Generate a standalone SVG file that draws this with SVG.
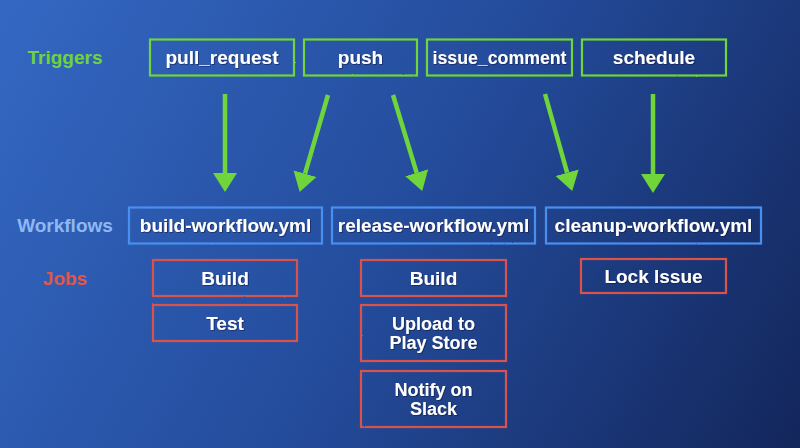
<svg xmlns="http://www.w3.org/2000/svg" width="800" height="448" viewBox="0 0 800 448">
  <defs>
    <linearGradient id="bg" x1="0" y1="0" x2="800" y2="448" gradientUnits="userSpaceOnUse">
      <stop offset="0" stop-color="#3468c3"/>
      <stop offset="0.5" stop-color="#244c9c"/>
      <stop offset="1" stop-color="#13265b"/>
    </linearGradient>
    <filter id="rough" filterUnits="userSpaceOnUse" x="0" y="0" width="800" height="448">
      <feTurbulence type="fractalNoise" baseFrequency="0.9" numOctaves="2" seed="3" result="n"/>
      <feDisplacementMap in="SourceGraphic" in2="n" scale="1.4" xChannelSelector="R" yChannelSelector="G"/>
    </filter>
    <filter id="shadow" x="-10%" y="-20%" width="120%" height="140%">
      <feDropShadow dx="0.8" dy="0.8" stdDeviation="0.5" flood-color="#0a1640" flood-opacity="0.7"/>
    </filter>
    <marker id="head" viewBox="0 -13 20 26" refX="0" refY="0" markerWidth="20" markerHeight="26" markerUnits="userSpaceOnUse" orient="auto">
      <path d="M0,-12 L19,0 L0,12 Z" fill="#6fd43a"/>
    </marker>
    <style>
      .trig { fill: none; stroke: #6fd43a; stroke-width: 2.2; }
      .wf { fill: none; stroke: #4a8ff0; stroke-width: 2.2; }
      .job { fill: none; stroke: #d9534c; stroke-width: 2.2; }
      .t { font-family: "Liberation Sans", Arial, sans-serif; font-weight: bold; font-size: 19px; fill: #ffffff; text-anchor: middle; }
      .t2 { font-size: 18px; }
      .lbl { font-family: "Liberation Sans", Arial, sans-serif; font-weight: bold; font-size: 19px; text-anchor: middle; }
      .arrow { stroke: #6fd43a; stroke-width: 4.5; fill: none; stroke-linecap: butt; }
    </style>
  </defs>

  <rect x="0" y="0" width="800" height="448" fill="url(#bg)"/>

  <g id="labels">
    <text class="lbl" x="65" y="63.5" fill="#6fd43a">Triggers</text>
    <text class="lbl" x="65" y="231.5" fill="#8fb8f2">Workflows</text>
    <text class="lbl" x="65" y="284.5" fill="#e0574a">Jobs</text>
  </g>

  <g id="trigger-pull_request">
    <rect class="trig" x="150" y="39.5" width="144" height="36" filter="url(#rough)"/>
    <text class="t" x="222" y="63.5" filter="url(#shadow)">pull_request</text>
  </g>
  <g id="trigger-push">
    <rect class="trig" x="304" y="39.5" width="113" height="36" filter="url(#rough)"/>
    <text class="t" x="360.5" y="63.5" filter="url(#shadow)">push</text>
  </g>
  <g id="trigger-issue_comment">
    <rect class="trig" x="427" y="39.5" width="145" height="36" filter="url(#rough)"/>
    <text class="t" x="499.5" y="63.5" textLength="134" lengthAdjust="spacingAndGlyphs" filter="url(#shadow)">issue_comment</text>
  </g>
  <g id="trigger-schedule">
    <rect class="trig" x="582" y="39.5" width="144" height="36" filter="url(#rough)"/>
    <text class="t" x="654" y="63.5" filter="url(#shadow)">schedule</text>
  </g>

  <g id="connectors" filter="url(#rough)">
    <line class="arrow" x1="225" y1="94" x2="225" y2="173" marker-end="url(#head)"/>
    <line class="arrow" x1="328" y1="95" x2="305" y2="173.7" marker-end="url(#head)"/>
    <line class="arrow" x1="393" y1="95" x2="416.7" y2="172.8" marker-end="url(#head)"/>
    <line class="arrow" x1="545" y1="94" x2="567.1" y2="172.7" marker-end="url(#head)"/>
    <line class="arrow" x1="653" y1="94" x2="653" y2="174" marker-end="url(#head)"/>
  </g>

  <g id="workflow-build">
    <rect class="wf" x="129" y="207.5" width="193" height="36" filter="url(#rough)"/>
    <text class="t" x="225.5" y="231.5" filter="url(#shadow)">build-workflow.yml</text>
  </g>
  <g id="workflow-release">
    <rect class="wf" x="332" y="207.5" width="203" height="36" filter="url(#rough)"/>
    <text class="t" x="433.5" y="231.5" filter="url(#shadow)">release-workflow.yml</text>
  </g>
  <g id="workflow-cleanup">
    <rect class="wf" x="546" y="207.5" width="215" height="36" filter="url(#rough)"/>
    <text class="t" x="653.5" y="231.5" filter="url(#shadow)">cleanup-workflow.yml</text>
  </g>

  <g id="job-build-1">
    <rect class="job" x="153" y="260" width="144" height="36" filter="url(#rough)"/>
    <text class="t" x="225" y="284.5" filter="url(#shadow)">Build</text>
  </g>
  <g id="job-test">
    <rect class="job" x="153" y="305" width="144" height="36" filter="url(#rough)"/>
    <text class="t" x="225" y="329.5" filter="url(#shadow)">Test</text>
  </g>
  <g id="job-build-2">
    <rect class="job" x="361" y="260" width="145" height="36" filter="url(#rough)"/>
    <text class="t" x="433.5" y="284.5" filter="url(#shadow)">Build</text>
  </g>
  <g id="job-upload">
    <rect class="job" x="361" y="305" width="145" height="56" filter="url(#rough)"/>
    <text class="t t2" x="433.5" y="329.5" filter="url(#shadow)">Upload to</text>
    <text class="t t2" x="433.5" y="349" filter="url(#shadow)">Play Store</text>
  </g>
  <g id="job-notify">
    <rect class="job" x="361" y="371" width="145" height="56" filter="url(#rough)"/>
    <text class="t t2" x="433.5" y="395.5" filter="url(#shadow)">Notify on</text>
    <text class="t t2" x="433.5" y="415" filter="url(#shadow)">Slack</text>
  </g>
  <g id="job-lock">
    <rect class="job" x="581" y="259" width="145" height="34" filter="url(#rough)"/>
    <text class="t" x="653.5" y="282.5" filter="url(#shadow)">Lock Issue</text>
  </g>
</svg>
